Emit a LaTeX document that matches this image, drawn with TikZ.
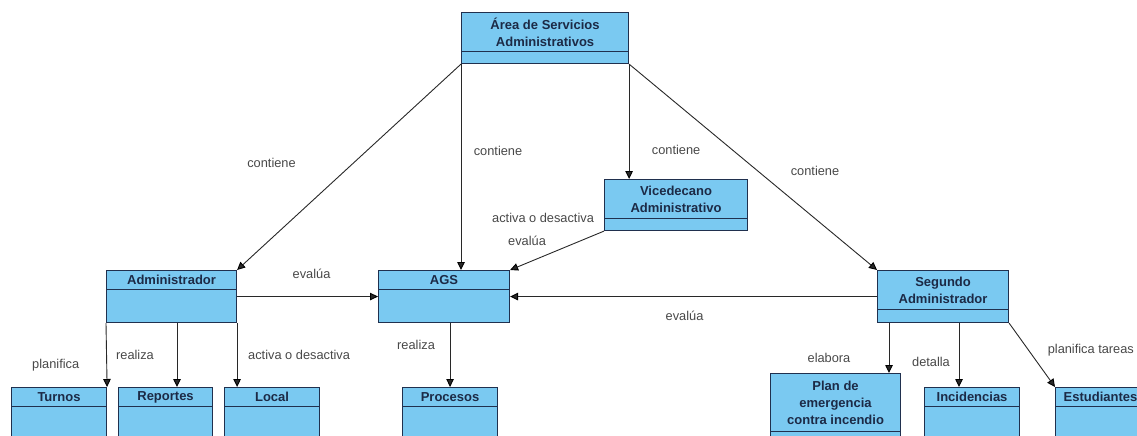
\documentclass[tikz,border=0pt]{standalone}
\usepackage{fontspec}
\setmainfont{Liberation Sans}
\usetikzlibrary{arrows.meta}

\definecolor{classfill}{RGB}{122,201,241}
\definecolor{classline}{RGB}{32,48,78}
\definecolor{classtext}{RGB}{28,42,70}
\definecolor{edgeline}{RGB}{40,40,40}
\definecolor{edgetext}{RGB}{72,72,72}

% a class: whole box, then the name compartment on top of it
% #1 name, #2 top left corner, #3 width, #4 height, #5 name height, #6 title
\newcommand{\umlclass}[6]{%
  \node[class, minimum width=#3pt, minimum height=#4pt] (#1) at (#2) {};
  \node[cname, minimum width=#3pt, minimum height=#5pt] (#1-name) at (#1.north) {#6};
}

\begin{document}
\begin{tikzpicture}[x=1pt, y=-1pt,
    class/.style={draw=classline, fill=classfill, line width=1.1pt, anchor=north west, inner sep=0pt},
    cname/.style={draw=classline, line width=1.1pt, anchor=north, inner sep=0pt, align=center,
      text=classtext, font=\fontsize{13}{17}\selectfont\bfseries},
    lbl/.style={text=edgetext, font=\fontsize{12.8}{15}\selectfont},
    conn/.style={-{Triangle[length=8pt, width=7.5pt, color=black]}, color=edgeline, line width=.9pt}]
  \useasboundingbox (0,0) rectangle (1137,436);
  \clip (0,0) rectangle (1137,436);

  \umlclass{area}{461,12}{167}{51}{39}{Área de Servicios\\Administrativos}
  \umlclass{vice}{604,179}{143}{51}{39}{Vicedecano\\Administrativo}
  \umlclass{admin}{106,270}{130}{52}{19}{Administrador}
  \umlclass{ags}{378,270}{131}{52}{19}{AGS}
  \umlclass{seg}{877,270}{131}{52}{39}{Segundo\\Administrador}
  \umlclass{turnos}{11,387}{95}{80}{19}{Turnos}
  \umlclass{reportes}{118,387}{94}{80}{19}{Reportes}
  \umlclass{local}{224,387}{95}{80}{19}{Local}
  \umlclass{procesos}{402,387}{95}{80}{19}{Procesos}
  \umlclass{plan}{770,373}{130}{100}{58}{Plan de\\emergencia\\contra incendio}
  \umlclass{incid}{924,387}{95}{80}{19}{Incidencias}
  \umlclass{estud}{1055,387}{90}{80}{19}{Estudiantes}

  \coordinate (admin-mid) at ([xshift=71pt]admin.south west);
  \coordinate (seg-left) at ([xshift=12pt]seg.south west);
  \coordinate (seg-mid) at ([xshift=82pt]seg.south west);

  \path[conn] (area.south west) edge node[lbl, pos=.48, xshift=-82pt] {contiene} (admin.north east);
  \path[conn] (area.south west) edge node[lbl, pos=.42, xshift=37pt] {contiene} (area.south west |- ags.north);
  \path[conn] (area.south east) edge node[lbl, pos=.75, xshift=47pt] {contiene} (area.south east |- vice.north);
  \path[conn] (area.south east) edge node[lbl, pos=.52, xshift=57pt] {contiene} (seg.north west);
  \path[conn] (vice.south west) edge node[lbl, xshift=-14pt, yshift=33pt] {activa o desactiva}
                                     node[lbl, xshift=-30pt, yshift=10pt] {evalúa} (ags.north east);
  \path[conn] (admin.east) edge node[lbl, xshift=4pt, yshift=23pt] {evalúa} (ags.west);
  \path[conn] (seg.west) edge node[lbl, xshift=-9pt, yshift=-19pt] {evalúa} (ags.east);

  \path[conn] (admin.south west) edge node[lbl, pos=.66, xshift=-51pt] {planifica} (turnos.north east);
  \path[conn] (admin-mid) edge node[lbl, xshift=-42pt] {realiza} (admin-mid |- reportes.north);
  \path[conn] (admin.south east) edge node[lbl, xshift=62pt] {activa o desactiva} (admin.south east |- local.north);
  \path[conn] (procesos.north |- ags.south) edge node[lbl, pos=.34, xshift=-34pt] {realiza} (procesos.north);

  \path[conn] (seg-left) edge node[lbl, pos=.69, xshift=-60pt] {elabora} (seg-left |- plan.north);
  \path[conn] (seg-mid) edge node[lbl, pos=.6, xshift=-28pt] {detalla} (seg-mid |- incid.north);
  \path[conn] (seg.south east) edge node[lbl, pos=.43, xshift=62pt] {planifica tareas} (estud.north west);
\end{tikzpicture}
\end{document}
